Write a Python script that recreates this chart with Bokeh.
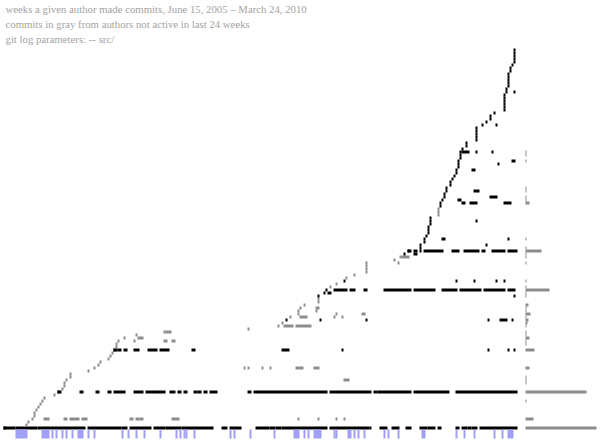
from bokeh.plotting import figure
from bokeh.models import Range1d, ColumnDataSource
from bokeh.core.properties import value
from bokeh.embed import file_html
from bokeh.resources import INLINE

# ---------------- data ----------------
title_lines = [
    "weeks a given author made commits, June 15, 2005 \u2013 March 24, 2010",
    "commits in gray from authors not active in last 24 weeks",
    "git log parameters: -- src/",
]

# week index of each author's first commit (row 0 = earliest author)
first_week = [
    0, 11, 12, 14, 15, 15, 16, 17, 18, 19,
    20, 25, 27, 29, 30, 30, 31, 33, 33, 42,
    45, 47, 48, 52, 53, 54, 55, 56, 56, 57,
    60, 66, 80, 122, 137, 139, 141, 143, 147, 147,
    148, 150, 157, 157, 157, 160, 161, 163, 166, 170,
    171, 175, 181, 181, 181, 181, 195, 198, 200, 202,
    208, 208, 210, 210, 211, 212, 212, 212, 213, 213,
    213, 217, 217, 217, 218, 218, 219, 220, 220, 221,
    221, 223, 223, 224, 225, 226, 226, 227, 227, 227,
    228, 228, 228, 229, 231, 231, 236, 236, 236, 236,
    236, 239, 241, 243, 243, 245, 250, 250, 250, 250,
    250, 250, 251, 251, 252, 252, 252, 252, 252, 253,
    253, 254, 255, 255, 255, 255, 255,
]

# further weeks (inclusive runs) in which an author committed
later_commits = {
    0: [[0, 5], [6, 16], [17, 40], [42, 58], [59, 61], [63, 73], [75, 80], [81, 88],
        [89, 104], [109, 111], [113, 118], [126, 132], [133, 135], [136, 138],
        [139, 161], [163, 182], [183, 183], [188, 191], [194, 197], [201, 203],
        [208, 211], [212, 215], [217, 218], [226, 227], [229, 231], [232, 233],
        [234, 236], [238, 256]],
    3: [[20, 22], [30, 31], [33, 37], [39, 41], [63, 64], [66, 67], [68, 69],
        [84, 87], [147, 147], [157, 157], [166, 166], [170, 170]],
    12: [[27, 28], [38, 39], [46, 47], [52, 53], [55, 60], [65, 69], [71, 80],
         [83, 85], [87, 88], [90, 91], [95, 96], [97, 98], [100, 101], [103, 106],
         [122, 123], [125, 161], [163, 183], [185, 186], [187, 203], [205, 222],
         [226, 256]],
    16: [[170, 172]],
    20: [[120, 120], [122, 122], [129, 129], [133, 133], [146, 149], [155, 157]],
    26: [[55, 56], [57, 58], [60, 61], [65, 67], [72, 76], [78, 82], [94, 95],
         [139, 142], [169, 169], [242, 242], [252, 252], [255, 255]],
    29: [[65, 65], [80, 81], [84, 85]],
    30: [[67, 69]],
    32: [[81, 83]],
    34: [[140, 144], [146, 153]],
    36: [[158, 158], [181, 181], [242, 242], [248, 251], [254, 254]],
    37: [[148, 151], [165, 165], [169, 169]],
    38: [[166, 166], [179, 180]],
    39: [[156, 156]],
    40: [[156, 157]],
    44: [[255, 255]],
    45: [[162, 163]],
    46: [[165, 171], [173, 175], [180, 181], [190, 203], [205, 215], [219, 226],
         [228, 238], [240, 250], [252, 255]],
    49: [[226, 226], [235, 235], [246, 246], [250, 250]],
    55: [[197, 197]],
    57: [[199, 202]],
    58: [[205, 206]],
    59: [[202, 203], [205, 206], [208, 208], [210, 219], [224, 227], [230, 237],
         [239, 240], [244, 250], [252, 256]],
    61: [[241, 241]],
    63: [[219, 220], [252, 252]],
    69: [[236, 236]],
    75: [[229, 230], [233, 236], [250, 253]],
    76: [[227, 228]],
    77: [[243, 246]],
    79: [[235, 237]],
    86: [[234, 235]],
    88: [[247, 247]],
    89: [[254, 255]],
    92: [[229, 232], [236, 236], [244, 244]],
    101: [[246, 246]],
    112: [[255, 255]],
}

# authors drawn in gray (not active in last 24 weeks)
gray_rows = (list(range(1, 12)) + list(range(13, 26)) + list(range(27, 36))
             + list(range(37, 44)) + [47, 48] + list(range(50, 58)) + [71, 72, 73])

# commit totals shown as bars on the right
total_commits = {
    0: 710, 3: 80, 9: 10, 12: 610, 15: 10, 16: 10, 17: 10, 20: 40, 26: 90,
    28: 10, 29: 10, 30: 40, 31: 10, 32: 10, 34: 10, 35: 20, 36: 30, 37: 10,
    38: 50, 39: 10, 40: 10, 41: 30, 44: 10, 45: 10, 46: 240, 47: 10, 49: 10,
    55: 10, 57: 10, 58: 10, 59: 160, 60: 10, 63: 10, 75: 40, 76: 10, 77: 10,
    79: 10, 80: 10, 89: 10, 91: 10, 92: 10,
}

# weeks marked in blue below the chart
blue_weeks = [
    [6, 11], [19, 22], [24, 24], [26, 26], [29, 29], [31, 31], [34, 34], [37, 39],
    [42, 42], [45, 45], [59, 59], [62, 62], [66, 66], [70, 70], [78, 78], [86, 86],
    [88, 88], [90, 90], [91, 91], [95, 95], [113, 113], [115, 115], [123, 123],
    [135, 135], [145, 147], [150, 150], [152, 152], [155, 158], [165, 165],
    [166, 166], [172, 173], [175, 175], [177, 177], [180, 180], [190, 190],
    [192, 192], [197, 197], [209, 210], [226, 226], [230, 230], [235, 235],
    [245, 245], [249, 249], [252, 254],
]

# ---------------- build ----------------
BLACK = "#000000"
GRAY = "#8c8c8c"
BLUE = "#a0a0f6"
TEXT = "#a3a3a3"

left, right, bottom, top, color = [], [], [], [], []
gray_set = set(gray_rows)
for row, fw in enumerate(first_week):
    c = GRAY if row in gray_set else BLACK
    runs = [[fw, fw]] + later_commits.get(row, [])
    for s, e in runs:
        left.append(s)
        right.append(e + 1)
        bottom.append(row - 0.5)
        top.append(row + 0.5)
        color.append(c)

cells = ColumnDataSource(dict(left=left, right=right, bottom=bottom, top=top, color=color))

bar_start = 261.0
bar_scale = 0.05
bars = ColumnDataSource(dict(
    left=[bar_start] * len(total_commits),
    right=[bar_start + v * bar_scale for v in total_commits.values()],
    bottom=[r - 0.5 for r in total_commits.keys()],
    top=[r + 0.5 for r in total_commits.keys()],
))

blues = ColumnDataSource(dict(
    left=[s for s, e in blue_weeks],
    right=[e + 1 for s, e in blue_weeks],
))

p = figure(width=600, height=443, output_backend="svg", toolbar_location=None,
           x_range=Range1d(-1.5, 298.5), y_range=Range1d(-5.1667, 142.5),
           min_border=0, background_fill_color="white", border_fill_color="white")
p.axis.visible = False
p.grid.visible = False
p.outline_line_color = None

p.quad(left="left", right="right", bottom="bottom", top="top", color="color",
       line_color=None, source=cells)
p.quad(left="left", right="right", bottom="bottom", top="top", fill_color=GRAY,
       line_color=None, source=bars)
p.quad(left="left", right="right", bottom=-3.5, top=-0.5, fill_color=BLUE,
       line_color=None, source=blues)

p.text(x=[1, 1, 1], y=[141.8, 136.8, 131.8], text=title_lines,
       text_font=value("Liberation Serif"), text_font_size="10.75px",
       text_color=TEXT, text_baseline="top", text_align="left")

open("out.html", "w").write(file_html(p, INLINE))
